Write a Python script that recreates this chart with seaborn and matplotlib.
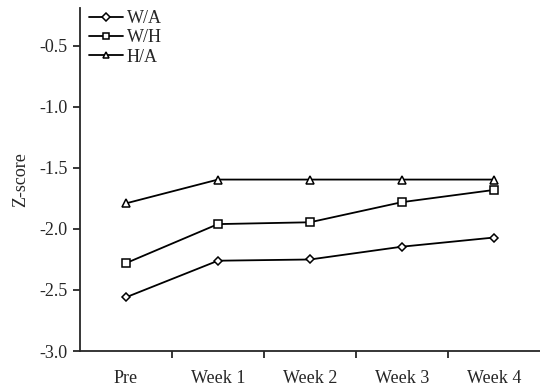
import numpy as np
import pandas as pd
import matplotlib
matplotlib.use('Agg')
import matplotlib.pyplot as plt
import seaborn as sns
from matplotlib.ticker import FixedLocator

# data
weeks = ['Pre', 'Week 1', 'Week 2', 'Week 3', 'Week 4']
wa = [-2.56, -2.26, -2.25, -2.145, -2.07]
wh = [-2.28, -1.96, -1.945, -1.78, -1.68]
ha = [-1.79, -1.595, -1.595, -1.595, -1.595]
series = ['W/A', 'W/H', 'H/A']

df = pd.DataFrame({
    'week': weeks * 3,
    'z': wa + wh + ha,
    'series': [s for s in series for _ in weeks],
})

sns.set_style('ticks')
plt.rcParams['font.family'] = ['Liberation Serif', 'DejaVu Serif']

fs = 13

fig = plt.figure(figsize=(5.4, 3.87), dpi=100)
ax = fig.add_axes([0.148, 0.093, 0.852, 0.886])

sns.lineplot(data=df, x='week', y='z', style='series', hue='series',
             palette=['black'] * 3, dashes=False,
             markers={'W/A': 'D', 'W/H': 's', 'H/A': '^'},
             markersize=6, markerfacecolor='white', markeredgecolor='black',
             markeredgewidth=1.1, linewidth=1.3, ax=ax)
for line in ax.lines:
    line.set_markerfacecolor('white')
    line.set_markeredgecolor('black')
ax.lines[0].set_markersize(4.5)

ax.set_xlim(-0.5, 4.5)
ax.set_ylim(-3.0, -0.19)
ax.set_yticks([-3.0, -2.5, -2.0, -1.5, -1.0, -0.5])
ax.set_yticklabels(['-3.0', '-2.5', '-2.0', '-1.5', '-1.0', '-0.5'])
ax.set_xticks(range(len(weeks)))
ax.set_xticklabels(weeks)
ax.xaxis.set_minor_locator(FixedLocator([0.5, 1.5, 2.5, 3.5]))
ax.tick_params(axis='x', which='major', length=0, pad=14, labelsize=fs)
ax.tick_params(axis='x', which='minor', length=5, width=1.3, direction='out')
ax.tick_params(axis='y', length=5, width=1.3, labelsize=fs, pad=4)
ax.set_xlabel('')
ax.set_ylabel('Z-score', fontsize=fs, labelpad=7)
for s in ['left', 'bottom']:
    ax.spines[s].set_linewidth(1.3)
sns.despine(ax=ax)

leg = ax.legend(loc='upper left', frameon=False, fontsize=fs,
                handlelength=1.9, handletextpad=0.2, labelspacing=0.12,
                borderaxespad=0.1, bbox_to_anchor=(0.0, 1.02))
for h in leg.legend_handles:
    h.set_markerfacecolor('white')
    h.set_markeredgecolor('black')
    h.set_color('black')
    h.set_markersize(5)
leg.legend_handles[0].set_markersize(4)

fig.savefig('out.png', dpi=100)
